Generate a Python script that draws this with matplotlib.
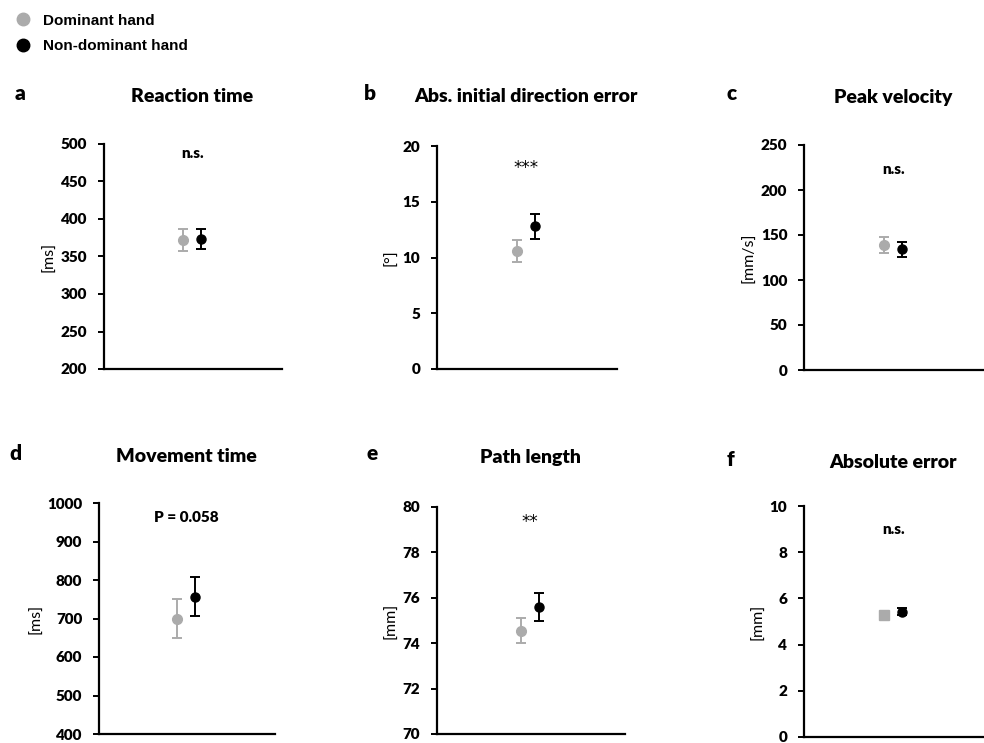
import matplotlib
matplotlib.use("Agg")
import matplotlib.pyplot as plt
from matplotlib.lines import Line2D

# Data
letters = ['a', 'b', 'c', 'd', 'e', 'f']
titles = ['Reaction time', 'Abs. initial direction error', 'Peak velocity',
          'Movement time', 'Path length', 'Absolute error']
units = ['[ms]', '[°]', '[mm/s]', '[ms]', '[mm]', '[mm]']
y_min = [200, 0, 0, 400, 70, 0]
y_max = [500, 20, 250, 1000, 80, 10]
y_step = [50, 5, 50, 100, 2, 2]
dominant_mean = [372, 10.6, 139, 700, 74.55, 5.3]
dominant_err = [15, 1.0, 8.5, 50, 0.55, 0.1]
nondominant_mean = [373, 12.8, 134, 757, 75.6, 5.42]
nondominant_err = [13.5, 1.1, 8, 50, 0.62, 0.15]
annotations = ['n.s.', '***', 'n.s.', 'P = 0.058', '**', 'n.s.']

W, H = 984, 743
GRAY = '#ABABAB'
FONT = 'Lato'

fig = plt.figure(figsize=(W / 100, H / 100), dpi=100)

# axes boxes in pixels: x0, x1, ytop, ybottom
boxes = [(104, 282, 144, 369), (437, 617, 146, 369), (804, 984, 145, 370),
         (99, 275, 503, 734), (437, 625, 507, 734), (804, 984, 506, 737)]
title_y = [97, 97, 97, 457, 457, 462]
letter_x = [20, 370, 732, 15, 372, 730]
annot_y = [153, 168, 170, 517, 522, 530]


def fx(px):
    return px / W


def fy(py):
    return 1 - py / H


for i in range(6):
    x0, x1, yt, yb = boxes[i]
    ax = fig.add_axes([fx(x0), fy(yb), fx(x1 - x0), (yb - yt) / H])
    ax.set_xlim(0, 4)
    ax.set_ylim(y_min[i], y_max[i])
    ticks = []
    v = y_min[i]
    while v <= y_max[i] + 1e-9:
        ticks.append(v)
        v += y_step[i]
    ax.set_yticks(ticks)
    ax.set_yticklabels([f'{t:g}' for t in ticks], fontfamily=FONT,
                       fontweight='heavy', fontsize=11)
    ax.set_xticks([])
    for s in ['top', 'right']:
        ax.spines[s].set_visible(False)
    for s in ['left', 'bottom']:
        ax.spines[s].set_linewidth(1.6)
        ax.spines[s].set_color('black')
    ax.tick_params(axis='y', direction='out', length=4, width=1.4, pad=8)
    ax.set_ylabel(units[i], fontfamily=FONT, fontsize=11.5, labelpad=3)

    gm = 's' if i == 5 else 'o'
    ax.errorbar(1.78, dominant_mean[i], yerr=dominant_err[i], fmt=gm,
                color=GRAY, ms=7, capsize=3.5, elinewidth=1.4, capthick=1.4)
    ax.errorbar(2.18, nondominant_mean[i], yerr=nondominant_err[i], fmt='o',
                color='black', ms=6.5, capsize=3.5, elinewidth=1.4, capthick=1.4)

    ax_cx = x0 + (x1 - x0) * 0.495
    if '*' in annotations[i]:
        fig.text(fx(ax_cx), fy(annot_y[i]), annotations[i], ha='center',
                 va='center', fontfamily='DejaVu Sans', fontsize=12)
    else:
        fig.text(fx(ax_cx), fy(annot_y[i]), annotations[i], ha='center',
                 va='center', fontfamily=FONT, fontweight='heavy', fontsize=11)
    fig.text(fx(ax_cx), fy(title_y[i]), titles[i], ha='center', va='center',
             fontfamily=FONT, fontweight='heavy', fontsize=14)
    fig.text(fx(letter_x[i]), fy(title_y[i] - 3), letters[i], ha='center',
             va='center', fontfamily=FONT, fontweight='heavy', fontsize=15)

handles = [Line2D([], [], marker='o', ls='', color=GRAY, ms=9),
           Line2D([], [], marker='o', ls='', color='black', ms=9)]
fig.legend(handles, ['Dominant hand', 'Non-dominant hand'], loc='upper left',
           bbox_to_anchor=(fx(-6), fy(0)), frameon=False, handletextpad=0.3,
           labelspacing=0.75, prop={'family': 'Liberation Sans',
                                    'weight': 'bold', 'size': 11})

fig.savefig('out.png', dpi=100)
